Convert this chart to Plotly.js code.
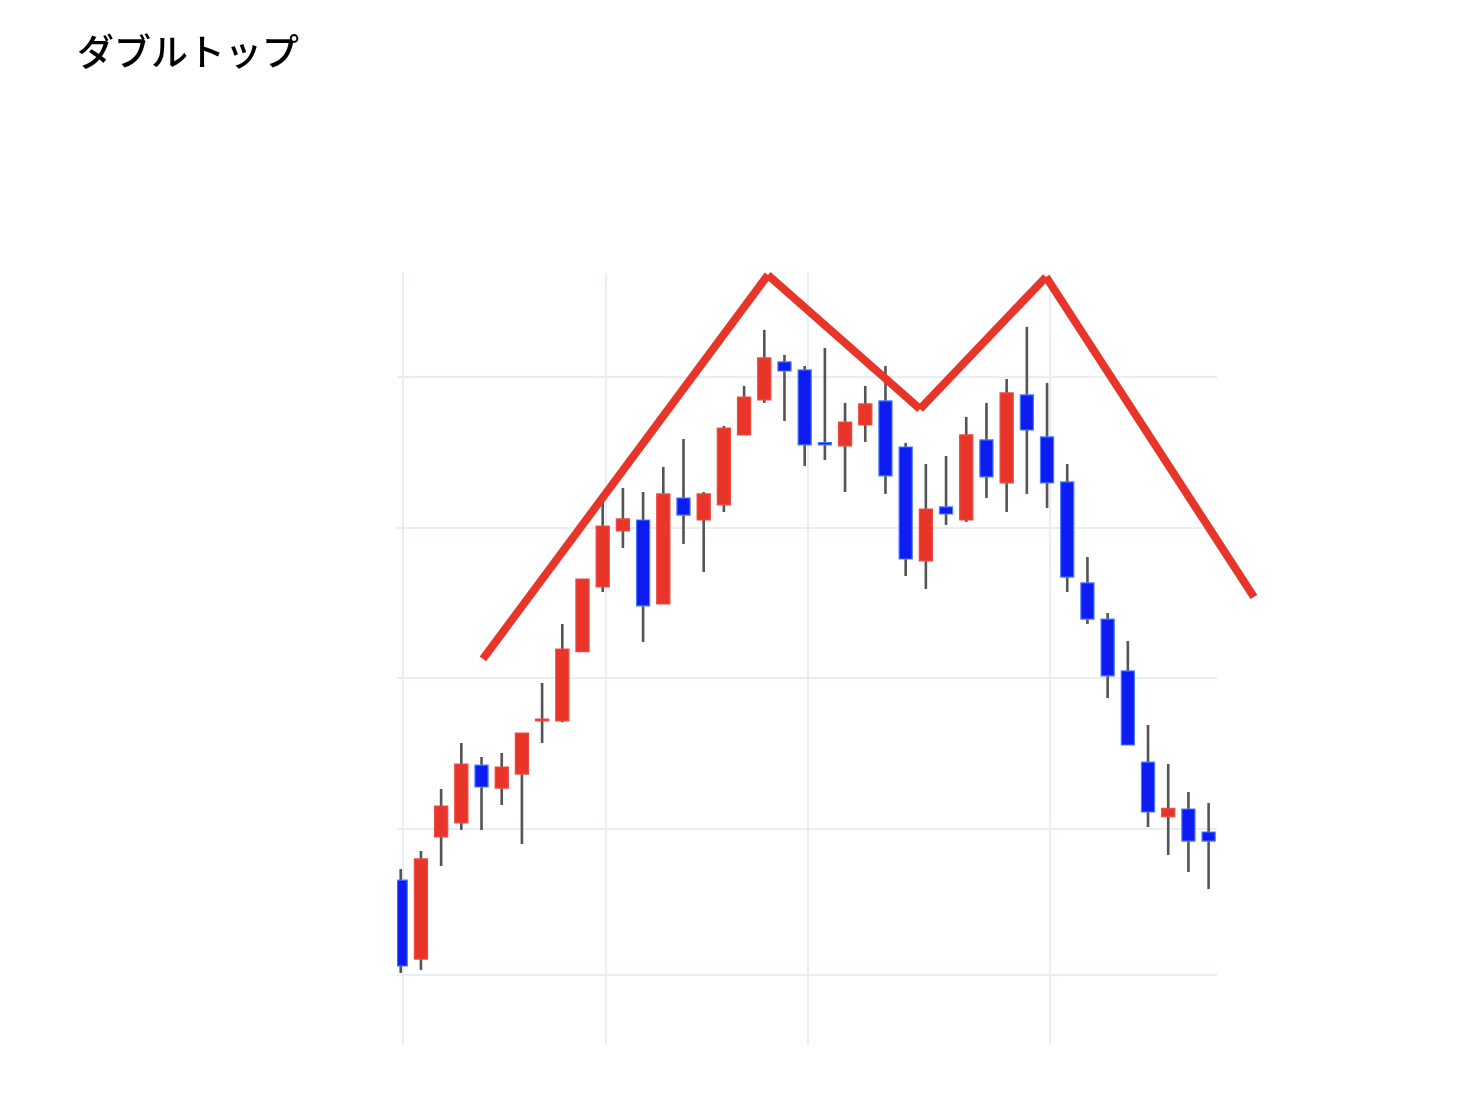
<!DOCTYPE html>
<html>
<head>
<meta charset="utf-8">
<script src="https://cdn.plot.ly/plotly-3.0.1.min.js"></script>
<style>
  html, body { margin: 0; padding: 0; background: #ffffff; }
  #chart { width: 1468px; height: 1110px; }
</style>
</head>
<body>
<div id="chart"></div>
<script>
// Session index (one candle per trading session)
const sessions = [0, 1, 2, 3, 4, 5, 6, 7, 8, 9, 10, 11, 12, 13, 14, 15, 16, 17, 18, 19, 20,
                  21, 22, 23, 24, 25, 26, 27, 28, 29, 30, 31, 32, 33, 34, 35, 36, 37, 38, 39, 40];

const openPx  = [1066.1, 1013.6, 1094.7, 1104.0, 1142.5, 1127.2, 1136.5, 1171.8, 1171.8, 1217.9,
                 1260.8, 1298.0, 1305.3, 1249.5, 1319.9, 1305.3, 1315.3, 1361.8, 1385.1, 1410.3,
                 1405.0, 1356.8, 1354.5, 1368.4, 1384.4, 1353.8, 1278.1, 1314.0, 1305.3, 1358.5,
                 1329.9, 1388.4, 1360.5, 1330.6, 1263.5, 1239.5, 1205.0, 1144.5, 1108.2, 1113.3,
                 1098.0];
const highPx  = [1073.4, 1085.4, 1126.6, 1157.1, 1147.8, 1150.5, 1163.8, 1197.0, 1236.2, 1266.1,
                 1316.6, 1326.6, 1323.9, 1340.5, 1359.1, 1323.9, 1367.8, 1394.4, 1431.6, 1415.0,
                 1407.6, 1419.6, 1383.1, 1394.4, 1407.6, 1356.5, 1342.5, 1347.8, 1373.8, 1383.1,
                 1399.0, 1433.6, 1396.3, 1342.5, 1280.7, 1243.5, 1224.9, 1169.1, 1143.2, 1124.6,
                 1117.3];
const lowPx   = [1004.3, 1006.3, 1075.4, 1099.3, 1099.3, 1115.9, 1090.0, 1157.1, 1171.0, 1217.9,
                 1257.5, 1286.7, 1224.3, 1249.5, 1289.4, 1270.8, 1310.6, 1361.8, 1383.1, 1371.1,
                 1341.2, 1345.2, 1323.9, 1357.1, 1322.6, 1268.1, 1259.5, 1302.0, 1304.0, 1319.9,
                 1310.6, 1322.6, 1313.3, 1257.5, 1236.2, 1187.0, 1155.8, 1101.3, 1082.7, 1071.4,
                 1060.1];
const closePx = [1009.0, 1080.1, 1115.3, 1143.2, 1127.9, 1141.2, 1163.8, 1173.1, 1219.6, 1266.1,
                 1301.3, 1306.0, 1248.2, 1322.6, 1308.6, 1322.6, 1366.4, 1387.0, 1413.0, 1404.3,
                 1355.2, 1355.2, 1370.4, 1382.4, 1334.6, 1279.4, 1312.6, 1309.3, 1361.8, 1333.9,
                 1389.7, 1365.1, 1329.9, 1267.4, 1239.5, 1201.7, 1155.8, 1111.3, 1113.8, 1092.0,
                 1092.0];

// Double-top outline: left base, first top, neckline dip, second top, breakdown
const patternX = [4.07, 18.18, 25.71, 31.95, 42.24];
const patternY = [1213.0, 1468.1, 1379.1, 1466.8, 1254.2];

// Grid positions
const gridX = [0.12, 10.18, 20.18, 32.17];
const gridY = [1003.0, 1100, 1200, 1300, 1400];

const titleText = 'ダブルトップ';

// Colours
const upColor = '#E8352A';
const upEdge = '#EE4A40';
const downColor = '#0A1BF2';
const downEdge = '#4C7CFF';
const wickColor = '#555555';
const gridColor = '#E9EEF6';

// Layout geometry
const W = 1468, H = 1110;
const candleDomX = [397.3 / W, 1216.7 / W];
const candleDomY = [65 / H, 837 / H];
const candleRangeX = [-0.17, 40.4];
const candleRangeY = [956.5, 1469.4];

// Stretch a range so the same scale covers the whole [0,1] domain
function fullRange(range, dom) {
  const s = (range[1] - range[0]) / (dom[1] - dom[0]);
  return [range[0] - dom[0] * s, range[1] + (1 - dom[1]) * s];
}

const isUp = sessions.map((_, i) => closePx[i] >= openPx[i]);
const bodyBase = sessions.map((_, i) => Math.min(openPx[i], closePx[i]));
const bodyLen = sessions.map((_, i) => Math.max(Math.abs(closePx[i] - openPx[i]), 0.4));
const wickLen = sessions.map((_, i) => highPx[i] - lowPx[i]);

const wicks = {
  type: 'bar',
  x: sessions,
  base: lowPx,
  y: wickLen,
  width: 0.13,
  marker: { color: wickColor, line: { width: 0 } },
  hoverinfo: 'skip',
  showlegend: false
};

const bodies = {
  type: 'bar',
  x: sessions,
  base: bodyBase,
  y: bodyLen,
  width: 0.65,
  marker: {
    color: isUp.map(u => (u ? upColor : downColor)),
    line: { width: 1.2, color: isUp.map(u => (u ? upEdge : downEdge)) }
  },
  hoverinfo: 'skip',
  showlegend: false
};

const patternAnchor = {
  type: 'scatter',
  x: patternX,
  y: patternY,
  xaxis: 'x2',
  yaxis: 'y2',
  mode: 'none',
  hoverinfo: 'skip',
  showlegend: false
};

const patternShapes = patternX.slice(0, -1).map((x, k) => ({
  type: 'line',
  xref: 'x2',
  yref: 'y2',
  x0: x,
  y0: patternY[k],
  x1: patternX[k + 1],
  y1: patternY[k + 1],
  line: { color: upColor, width: 8 },
  layer: 'above'
}));

const hiddenAxis = {
  visible: false,
  showgrid: false,
  zeroline: false,
  showticklabels: false,
  fixedrange: true
};

const layout = {
  width: W,
  height: H,
  margin: { l: 0, r: 0, t: 0, b: 0, pad: 0 },
  paper_bgcolor: '#ffffff',
  plot_bgcolor: 'rgba(0,0,0,0)',
  showlegend: false,
  barmode: 'overlay',
  title: {
    text: titleText,
    x: 77 / W,
    xanchor: 'left',
    xref: 'container',
    y: 1 - 53 / H,
    yanchor: 'middle',
    yref: 'container',
    font: { family: '"Noto Sans CJK JP", "Noto Sans", sans-serif', size: 37, weight: 500, color: '#000000' }
  },
  xaxis: {
    domain: candleDomX,
    range: candleRangeX,
    anchor: 'y',
    tickmode: 'array',
    tickvals: gridX,
    showticklabels: false,
    ticks: '',
    showgrid: true,
    gridcolor: gridColor,
    gridwidth: 2,
    zeroline: false,
    showline: false,
    fixedrange: true
  },
  yaxis: {
    domain: candleDomY,
    range: candleRangeY,
    anchor: 'x',
    tickmode: 'array',
    tickvals: gridY,
    showticklabels: false,
    ticks: '',
    showgrid: true,
    gridcolor: gridColor,
    gridwidth: 2,
    zeroline: false,
    showline: false,
    fixedrange: true
  },
  xaxis2: Object.assign({}, hiddenAxis, {
    domain: [0, 1],
    anchor: 'y2',
    range: fullRange(candleRangeX, candleDomX)
  }),
  yaxis2: Object.assign({}, hiddenAxis, {
    domain: [0, 1],
    anchor: 'x2',
    range: fullRange(candleRangeY, candleDomY)
  }),
  shapes: patternShapes
};

Plotly.newPlot('chart', [wicks, bodies, patternAnchor], layout, {
  staticPlot: true,
  displayModeBar: false
}).then(gd => {
  // Slightly soften the candle panel
  const svg = gd.querySelector('svg.main-svg');
  const panel = gd.querySelector('.cartesianlayer .subplot.xy');
  if (!svg || !panel) return;
  const ns = 'http://www.w3.org/2000/svg';
  let defs = svg.querySelector('defs');
  if (!defs) { defs = document.createElementNS(ns, 'defs'); svg.insertBefore(defs, svg.firstChild); }
  const filter = document.createElementNS(ns, 'filter');
  filter.setAttribute('id', 'panel-soften');
  filter.setAttribute('filterUnits', 'userSpaceOnUse');
  filter.setAttribute('x', '0');
  filter.setAttribute('y', '0');
  filter.setAttribute('width', String(W));
  filter.setAttribute('height', String(H));
  const blur = document.createElementNS(ns, 'feGaussianBlur');
  blur.setAttribute('stdDeviation', '0.6');
  filter.appendChild(blur);
  defs.appendChild(filter);
  panel.setAttribute('filter', 'url(#panel-soften)');
});
</script>
</body>
</html>
